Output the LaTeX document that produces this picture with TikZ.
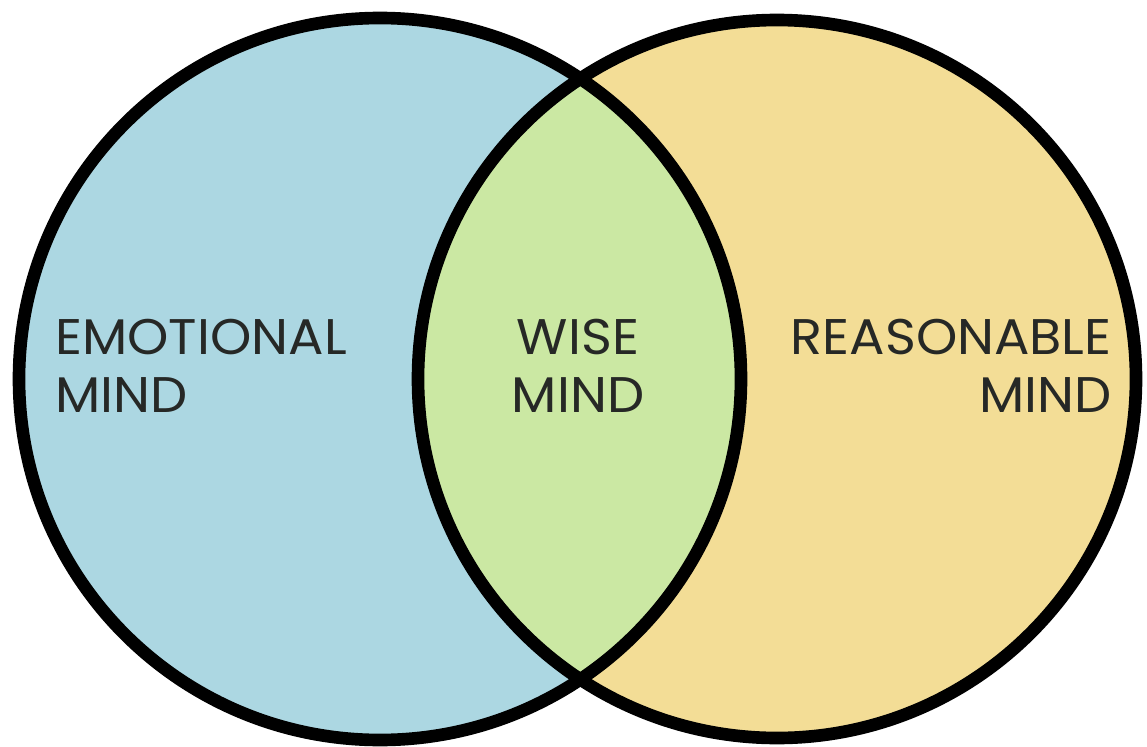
\documentclass[tikz,border=0pt]{standalone}
\usepackage{fontspec}
\setmainfont[FakeStretch=1.05]{Poppins}
\definecolor{emoblue}{RGB}{172,215,226}
\definecolor{wisegreen}{RGB}{203,232,163}
\definecolor{reasonyellow}{RGB}{243,221,150}
\definecolor{inkgray}{RGB}{38,40,38}
\tikzset{
  mindlabel/.style={inner sep=0pt, text=inkgray, font=\fontsize{28.5}{33}\selectfont},
}
\begin{document}
\begin{tikzpicture}[x=0.02cm, y=-0.02cm]
        \useasboundingbox (0,0) rectangle (1147,747);
        \fill[white] (0,0) rectangle (1147,747);
        \coordinate (emo) at (380,379);
        \coordinate (rea) at (777,379);

        % the two minds
        \fill[emoblue] (emo) circle (361);
        \fill[reasonyellow] (rea) circle (359);

        % overlap
        \begin{scope}
            \clip (emo) circle (361);
            \fill[wisegreen] (rea) circle (359);
        \end{scope}

        \draw[line width=7.2pt] (emo) circle (361);
        \draw[line width=7.2pt] (rea) circle (359);

        \node[mindlabel, align=left, anchor=west] (emolabel) at (55,366) {EMOTIONAL\\MIND};
        \node[mindlabel, align=center] (wiselabel) at (578,366) {WISE\\MIND};
        \node[mindlabel, align=right, anchor=east] (realabel) at (1112,366) {REASONABLE\\MIND};
    \end{tikzpicture}
\end{document}
